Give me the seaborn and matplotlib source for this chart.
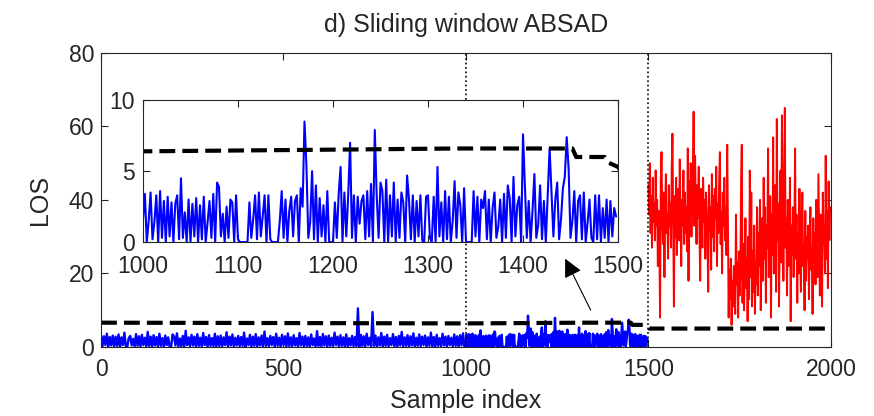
import numpy as np
import matplotlib
matplotlib.use("Agg")
import matplotlib.pyplot as plt
import seaborn as sns

sns.set_style("ticks")
plt.rcParams['font.family'] = ['Liberation Sans', 'DejaVu Sans']

# blue part, samples 0..996 every 4th sample
blue_a = [
    3.2, 0.2, 2.9, 0.5, 3.6, 0.0, 2.7, 0.4, 3.1, 0.1,
    2.8, 0.3, 3.4, 0.0, 2.6, 0.5, 3.9, 0.2, 0.0, 2.4,
    3.0, 0.4, 2.2, 0.1, 3.5, 0.3, 2.9, 0.0, 3.3, 0.5,
    2.5, 0.2, 4.1, 0.3, 2.8, 0.0, 3.2, 0.4, 2.7, 0.1,
    3.6, 0.3, 2.4, 0.0, 3.1, 0.5, 2.6, 0.0, 0.0, 3.4,
    2.9, 0.4, 3.7, 0.1, 2.3, 0.2, 3.0, 0.0, 4.4, 0.5,
    2.6, 0.2, 3.3, 0.4, 2.8, 0.0, 3.5, 0.3, 2.5, 0.1,
    3.8, 0.5, 2.7, 0.0, 3.2, 0.3, 2.4, 0.2, 3.6, 0.0,
    2.9, 0.3, 3.1, 0.1, 2.6, 0.5, 4.0, 0.1, 2.8, 0.4,
    3.4, 0.0, 2.5, 0.4, 3.0, 0.2, 2.7, 0.3, 3.9, 0.0,
    2.3, 0.5, 3.3, 0.0, 2.8, 0.3, 3.5, 0.1, 2.6, 0.4,
    3.1, 0.1, 4.2, 0.3, 2.4, 0.2, 3.0, 0.5, 2.7, 0.0,
    3.6, 0.3, 2.5, 0.1, 3.3, 0.5, 2.9, 0.0, 3.7, 0.2,
    2.6, 0.2, 3.2, 0.4, 2.4, 0.0, 3.8, 0.4, 2.8, 0.1,
    3.0, 0.3, 2.6, 0.0, 3.4, 0.5, 2.3, 0.2, 4.3, 0.3,
    2.7, 0.1, 3.5, 0.4, 2.9, 0.0, 3.1, 0.3, 2.5, 0.2,
    3.9, 0.5, 2.8, 0.0, 3.2, 0.3, 2.6, 0.1, 3.4, 0.0,
    2.4, 0.4, 3.0, 0.2, 2.7, 0.3, 10.5, 0.1, 3.3, 0.3,
    2.9, 0.0, 3.6, 0.5, 2.5, 0.2, 9.5, 0.3, 3.1, 0.1,
    2.6, 0.4, 3.8, 0.0, 2.8, 0.3, 3.3, 0.1, 2.4, 0.5,
    3.5, 0.2, 2.7, 0.0, 3.0, 0.4, 4.1, 0.1, 2.6, 0.3,
    3.2, 0.1, 2.9, 0.4, 3.7, 0.0, 2.5, 0.3, 3.4, 0.2,
    2.8, 0.5, 3.1, 0.0, 2.6, 0.3, 3.9, 0.1, 2.7, 0.0,
    3.3, 0.3, 2.4, 0.2, 3.6, 0.4, 2.8, 0.0, 3.0, 0.5,
    2.5, 0.1, 3.4, 0.3, 2.9, 0.0, 3.2, 0.4, 3.7, 0.2,
]

# blue part, samples 1000..1498 every 2nd sample
blue_b = [
    1.6, 3.4, 0.0, 1.5, 3.5, 0.2, 1.4, 3.3, 0.0, 3.6,
    0.3, 2.9, 0.0, 3.2, 0.4, 2.8, 0.0, 2.7, 3.3, 0.2,
    4.5, 0.3, 2.1, 0.0, 3.0, 0.0, 2.7, 0.4, 3.1, 0.0,
    2.6, 0.2, 3.2, 0.0, 1.4, 2.9, 0.3, 3.4, 0.0, 4.2,
    3.9, 0.4, 2.0, 0.0, 2.5, 0.3, 3.0, 2.8, 0.0, 3.3,
    0.2, 0.0, 0.0, 0.0, 0.0, 0.0, 2.8, 0.3, 1.6, 3.3,
    0.2, 3.5, 0.4, 1.8, 3.3, 0.0, 3.3, 0.2, 0.0, 0.0,
    0.0, 0.0, 1.5, 3.6, 0.3, 3.0, 0.0, 2.2, 3.2, 0.4,
    2.9, 3.3, 0.0, 3.8, 2.5, 8.5, 5.5, 0.3, 1.4, 5.0,
    0.2, 4.0, 0.0, 3.1, 0.4, 2.6, 0.0, 3.6, 0.0, 0.0,
    0.0, 2.8, 0.3, 3.4, 5.3, 0.0, 3.5, 0.4, 3.3, 7.0,
    0.3, 3.3, 0.0, 3.2, 1.3, 2.9, 3.3, 0.2, 3.6, 0.4,
    4.1, 0.0, 7.9, 3.3, 0.3, 4.2, 3.6, 0.0, 4.4, 0.0,
    3.3, 0.4, 4.2, 0.0, 3.0, 0.3, 3.5, 2.8, 0.0, 4.7,
    3.0, 0.2, 3.3, 0.0, 2.9, 0.4, 3.3, 0.1, 0.0, 3.2,
    3.3, 0.3, 0.0, 3.2, 0.0, 5.3, 0.4, 2.8, 0.0, 3.6,
    0.2, 3.2, 0.0, 1.5, 4.3, 0.3, 3.5, 2.6, 0.0, 3.8,
    0.0, 0.0, 0.0, 0.0, 3.6, 0.4, 3.2, 0.0, 3.0, 2.4,
    3.6, 0.2, 3.0, 0.0, 2.4, 3.5, 0.3, 1.1, 3.0, 0.0,
    3.4, 0.3, 4.0, 3.1, 0.0, 4.6, 0.4, 2.6, 3.2, 0.0,
    7.6, 4.0, 0.3, 2.9, 0.0, 2.2, 4.8, 0.3, 1.2, 4.0,
    0.2, 2.9, 0.0, 3.3, 6.6, 3.5, 0.4, 3.0, 4.2, 0.2,
    1.6, 3.8, 4.6, 7.4, 5.2, 0.3, 1.5, 3.6, 0.0, 2.9,
    3.3, 0.2, 3.5, 0.0, 1.4, 3.0, 0.3, 0.0, 3.3, 0.2,
    3.3, 0.0, 2.4, 0.3, 3.0, 0.0, 2.9, 0.4, 2.4, 1.8,
]

# red part, samples 1500..1998 every 2nd sample
red = [
    44, 36, 50, 31, 41, 27, 46, 34, 39, 29,
    48, 33, 40, 22, 37, 30, 8, 45, 53, 35,
    28, 42, 19, 38, 47, 31, 36, 24, 44, 33,
    39, 27, 49, 58, 34, 11, 41, 30, 46, 25,
    37, 43, 29, 51, 35, 22, 40, 33, 48, 28,
    42, 31, 38, 26, 54, 18, 45, 36, 50, 30,
    41, 47, 64, 33, 52, 39, 28, 44, 35, 49,
    31, 18, 43, 37, 27, 46, 34, 40, 24, 42,
    36, 29, 15, 44, 32, 38, 21, 47, 30, 41,
    26, 43, 35, 49, 22, 39, 31, 45, 53, 28,
    37, 20, 42, 33, 46, 29, 38, 25, 55, 34,
    8, 21, 13, 24, 6, 18, 11, 22, 15, 9,
    36, 17, 23, 8, 26, 14, 19, 44, 55, 12,
    28, 10, 21, 35, 16, 24, 7, 30, 13, 48,
    19, 42, 11, 26, 15, 33, 9, 23, 17, 38,
    14, 31, 22, 40, 10, 28, 35, 18, 46, 24,
    38, 12, 33, 27, 54, 19, 30, 41, 8, 36,
    25, 57, 20, 34, 44, 15, 62, 29, 39, 11,
    32, 48, 23, 63, 37, 18, 42, 65, 27, 35,
    14, 40, 30, 22, 46, 7, 33, 25, 38, 19,
    29, 54, 24, 36, 12, 31, 20, 43, 26, 15,
    34, 42, 22, 28, 10, 37, 18, 30, 24, 33,
    13, 29, 38, 21, 27, 9, 35, 23, 31, 17,
    40, 26, 19, 47, 30, 14, 36, 25, 11, 42,
    28, 33, 20, 52, 24, 37, 16, 45, 29, 38,
]

# threshold (dashed)
thr_x = [0, 1000, 1170, 1330, 1452, 1456, 1486, 1490, 1500, 1503, 2000]
thr_y = [6.6, 6.4, 6.5, 6.6, 6.6, 6.0, 6.0, 5.6, 5.3, 5.0, 5.0]

x_a = np.arange(len(blue_a)) * 4
x_b = 1000 + np.arange(len(blue_b)) * 2
x_r = 1500 + np.arange(len(red)) * 2
x_blue = np.concatenate([x_a, x_b])
y_blue = np.array(blue_a + blue_b)

txt = '#262626'
fs_tick = 16.5
fs_lab = 18

fig = plt.figure(figsize=(8.74, 4.16), dpi=100)
ax = fig.add_axes([0.1156, 0.166, 0.835, 0.707])

sns.lineplot(x=x_blue, y=y_blue, ax=ax, color='#0000ff', lw=1.7, estimator=None)
sns.lineplot(x=x_r, y=red, ax=ax, color='#ff0000', lw=1.4, estimator=None)
ax.plot(thr_x, thr_y, color='k', lw=3, dashes=(3.8, 1.7))
for xv in [1000, 1500]:
    ax.axvline(xv, color='k', ls=':', lw=1.2)

ax.set_xlim(0, 2000)
ax.set_ylim(0, 80)
ax.set_xticks([0, 500, 1000, 1500, 2000])
ax.set_yticks([0, 20, 40, 60, 80])
ax.tick_params(direction='in', top=True, right=True, labelsize=fs_tick,
               colors=txt, length=5)
ax.tick_params(axis='x', pad=8)
ax.tick_params(axis='y', pad=5)
for s in ax.spines.values():
    s.set_visible(True)
    s.set_color(txt)
ax.set_xlabel('Sample index', fontsize=fs_lab, color=txt, labelpad=6)
ax.set_ylabel('LOS', fontsize=fs_lab, color=txt, labelpad=12)
ax.set_title('d) Sliding window ABSAD', fontsize=fs_lab, color=txt, pad=15)

ax.annotate('', xy=(1272, 24), xytext=(1342, 10),
            arrowprops=dict(arrowstyle='-|>', color='k', lw=0.8,
                            mutation_scale=28, shrinkA=0, shrinkB=0))

# inset zoom on 1000..1500
axi = fig.add_axes([0.1636, 0.418, 0.5435, 0.341])
sns.lineplot(x=x_b, y=blue_b, ax=axi, color='#0000ff', lw=1.5, estimator=None)
axi.plot(thr_x, thr_y, color='k', lw=3, dashes=(3.8, 1.7))
axi.set_xlim(1000, 1500)
axi.set_ylim(0, 10)
axi.set_xticks([1000, 1100, 1200, 1300, 1400, 1500])
axi.set_yticks([0, 5, 10])
axi.tick_params(direction='in', top=True, right=True, labelsize=fs_tick,
                colors=txt, length=5)
axi.tick_params(axis='x', pad=9)
axi.tick_params(axis='y', pad=6)
for s in axi.spines.values():
    s.set_visible(True)
    s.set_color(txt)
axi.set_xlabel('')
axi.set_ylabel('')

fig.savefig('out.png', dpi=100)
